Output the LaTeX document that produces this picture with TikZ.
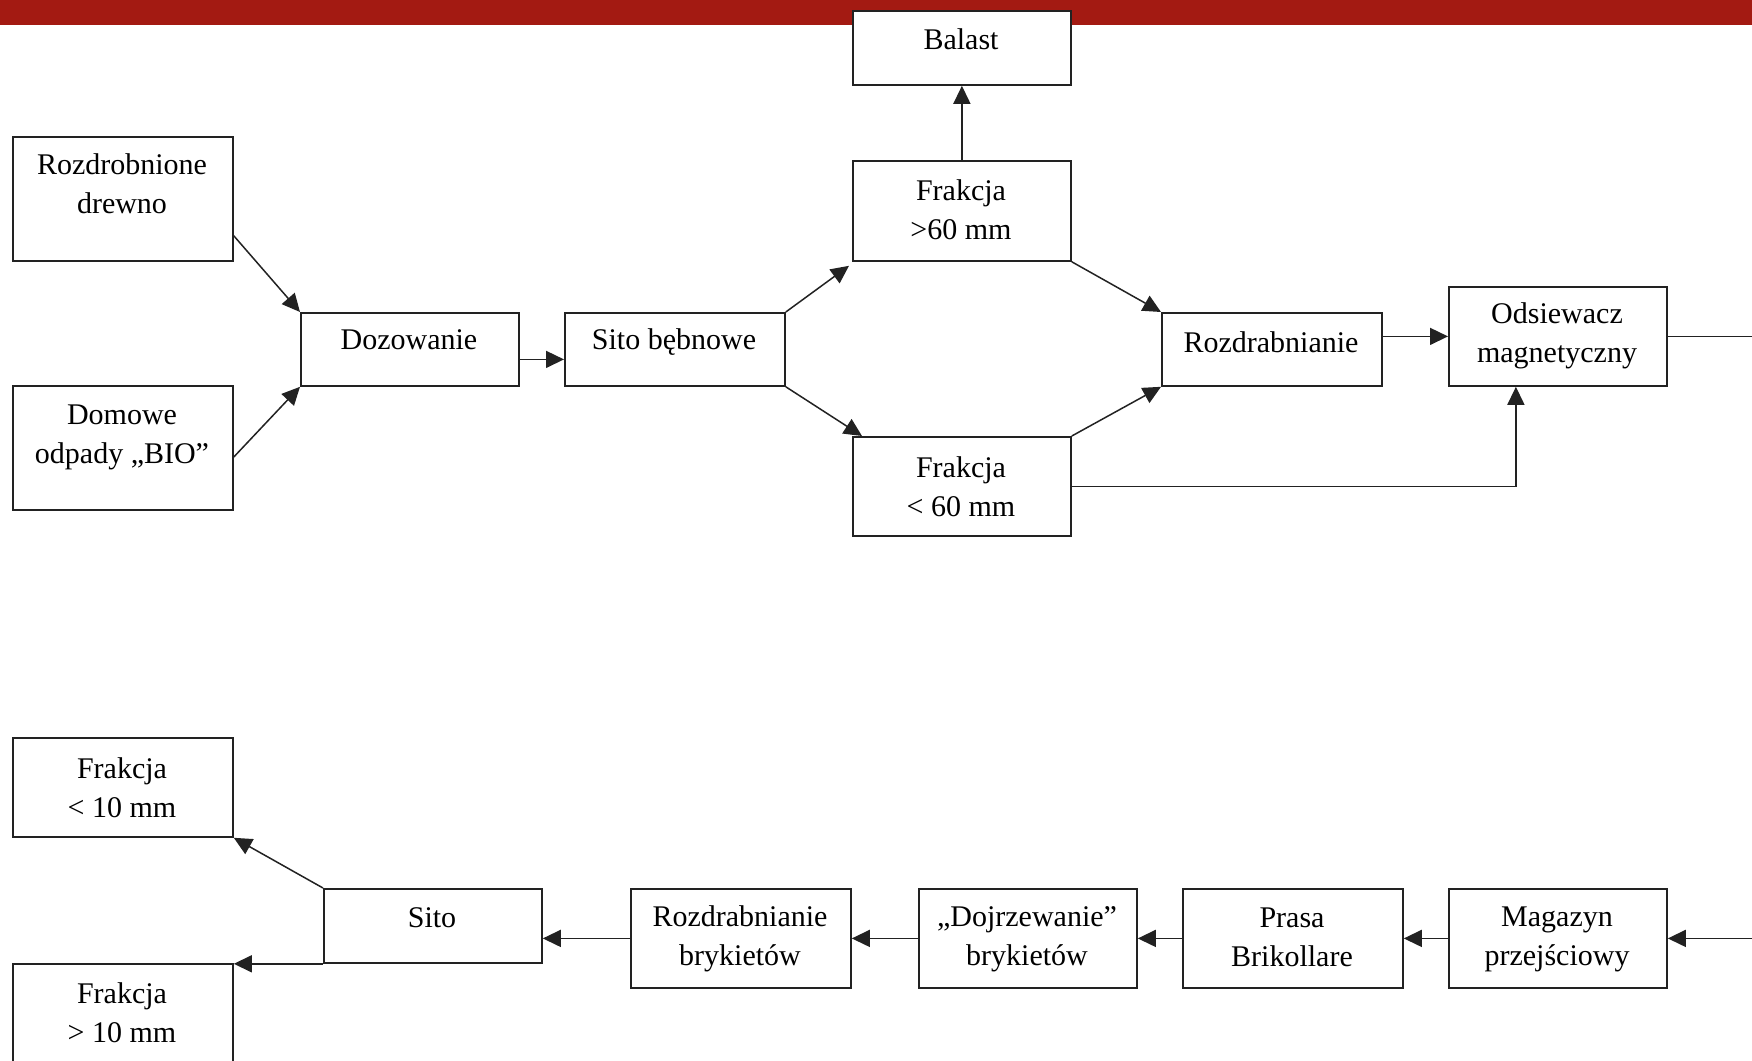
\documentclass[tikz,border=0pt]{standalone}
\usepackage{fontspec}
\setmainfont{Liberation Serif}
\usetikzlibrary{arrows.meta}
\definecolor{barred}{HTML}{A31A12}
\definecolor{boxline}{HTML}{222222}
\begin{document}
\begin{tikzpicture}[x=1pt,y=-1pt,
  box/.style={draw=boxline, line width=1.8pt, fill=white, inner sep=0pt, anchor=north west},
  txt/.style={font=\fontsize{30}{39}\selectfont, align=center, inner sep=0pt},
  arr/.style={draw=boxline, line width=1.5pt, -{Triangle[length=18pt,width=17pt]}},
  ln/.style={draw=boxline, line width=1.5pt}]
\useasboundingbox (0,0) rectangle (1752,1060);
\fill[barred] (0,0) rectangle (1752,25);
% boxes
\node[box, minimum width=218pt, minimum height=74pt]  (balast) at (852,10) {};
\node[box, minimum width=218pt, minimum height=100pt] (f60g)   at (852,160) {};
\node[box, minimum width=220pt, minimum height=124pt] (rozd)   at (12,136) {};
\node[box, minimum width=220pt, minimum height=124pt] (domowe) at (12,385) {};
\node[box, minimum width=218pt, minimum height=73pt]  (doz)    at (300,312) {};
\node[box, minimum width=220pt, minimum height=73pt]  (sito1)  at (564,312) {};
\node[box, minimum width=218pt, minimum height=99pt]  (f60l)   at (852,436) {};
\node[box, minimum width=220pt, minimum height=73pt]  (rozdr)  at (1161,312) {};
\node[box, minimum width=218pt, minimum height=99pt]  (odsi)   at (1448,286) {};
\node[box, minimum width=220pt, minimum height=99pt]  (f10l)   at (12,737) {};
\node[box, minimum width=218pt, minimum height=74pt]  (sito2)  at (323,888) {};
\node[box, minimum width=220pt, minimum height=120pt] (f10g)   at (12,963) {};
\node[box, minimum width=220pt, minimum height=99pt]  (rbryk)  at (630,888) {};
\node[box, minimum width=218pt, minimum height=99pt]  (dojrz)  at (918,888) {};
\node[box, minimum width=220pt, minimum height=99pt]  (prasa)  at (1182,888) {};
\node[box, minimum width=218pt, minimum height=99pt]  (magaz)  at (1448,888) {};
% texts
\node[txt] (balast-t) at (961,39)   {Balast};
\node[txt] (f60g-t)   at (961,210)  {Frakcja\\>60 mm};
\node[txt] (rozd-t)   at (122,184)  {Rozdrobnione\\drewno};
\node[txt] (domowe-t) at (122,437)  {Domowe\\odpady „BIO”};
\node[txt] (doz-t)    at (409,340)  {Dozowanie};
\node[txt] (sito1-t)  at (674,342)  {Sito bębnowe};
\node[txt] (f60l-t)   at (961,487)  {Frakcja\\< 60 mm};
\node[txt] (rozdr-t)  at (1271,342) {Rozdrabnianie};
\node[txt] (odsi-t)   at (1557,336) {Odsiewacz\\magnetyczny};
\node[txt] (f10l-t)   at (122,788)  {Frakcja\\< 10 mm};
\node[txt] (sito2-t)  at (432,918)  {Sito};
\node[txt] (f10g-t)   at (122,1013) {Frakcja\\> 10 mm};
\node[txt] (rbryk-t)  at (740,939)  {Rozdrabnianie\\brykietów};
\node[txt] (dojrz-t)  at (1027,939) {„Dojrzewanie”\\brykietów};
\node[txt] (prasa-t)  at (1292,937) {Prasa\\Brikollare};
\node[txt] (magaz-t)  at (1557,939) {Magazyn\\przejściowy};
% free ends
\coordinate (outR) at (1752,336);
\coordinate (inR)  at (1752,937);
% connectors top
\draw[arr] ([yshift=26pt]rozd.south east) -- (doz.north west);
\draw[arr] ([yshift=-72pt]domowe.north east) -- (doz.south west);
\draw[arr] ([yshift=-10pt]doz.east) -- ([yshift=-10pt]sito1.west);
\draw[arr] (sito1.north east) -- ([xshift=-3pt,yshift=-4pt]f60g.south west);
\draw[arr] (sito1.south east) -- ([xshift=10pt]f60l.north west);
\draw[arr] (f60g.north) -- (balast.south);
\draw[arr] (f60g.south east) -- (rozdr.north west);
\draw[arr] (f60l.north east) -- (rozdr.south west);
\draw[arr] (rozdr.east |- odsi.west) -- (odsi.west);
\draw[arr] (f60l.east) -| ([xshift=-42pt]odsi.south);
\draw[ln] (odsi.east) -- (odsi.east -| outR);
% connectors bottom
\draw[arr] (magaz.east -| inR) -- (magaz.east);
\draw[arr] (magaz.west) -- (prasa.east);
\draw[arr] (prasa.west) -- (dojrz.east);
\draw[arr] (dojrz.west) -- (rbryk.east);
\draw[arr] (rbryk.west) -- (sito2.east |- rbryk.west);
\draw[arr] (sito2.north west) -- (f10l.south east);
\draw[arr] (sito2.south west) -- (sito2.south west -| f10g.east);
\end{tikzpicture}
\end{document}
